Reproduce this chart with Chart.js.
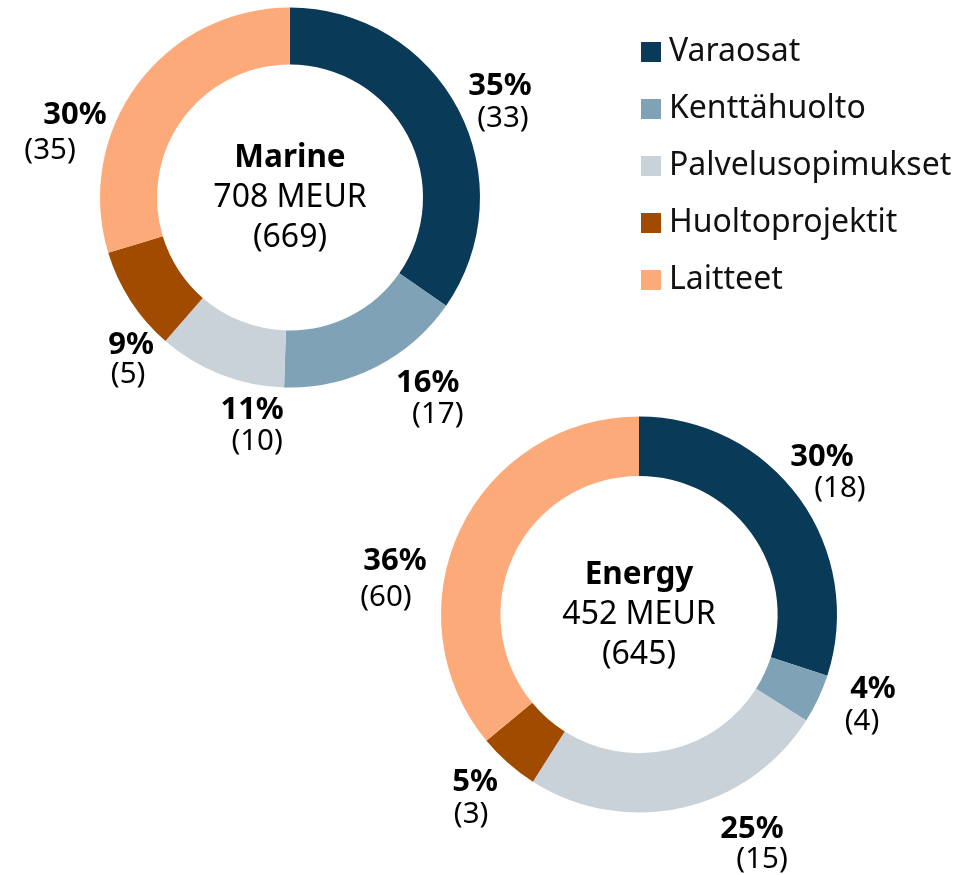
<!DOCTYPE html>
<html>
<head>
<meta charset="utf-8">
<script src="https://cdn.jsdelivr.net/npm/chart.js@4/dist/chart.umd.min.js"></script>
<style>
  html, body { margin: 0; padding: 0; background: #fff; }
  body { width: 976px; height: 875px; position: relative; overflow: hidden; font-family: "Noto Sans", sans-serif; }
  canvas.layer { position: absolute; left: 0; top: 0; }
  #legend { position: absolute; left: 0; top: 0; width: 976px; height: 875px; pointer-events: none; }
  .sw { position: absolute; width: 20px; height: 20px; }
  .lt { position: absolute; font-size: 32px; line-height: 32px; color: #111; white-space: nowrap; }
</style>
</head>
<body>
<canvas id="marine" class="layer" width="976" height="875"></canvas>
<canvas id="energy" class="layer" width="976" height="875"></canvas>
<div id="legend"></div>
<script>
// ---- data ----
const categories = ['Varaosat', 'Kenttähuolto', 'Palvelusopimukset', 'Huoltoprojektit', 'Laitteet'];
const marineShare = [35, 16, 11, 9, 30];      // % current year
const marinePrev  = [33, 17, 10, 5, 35];      // % previous year
const energyShare = [30, 4, 25, 5, 36];
const energyPrev  = [18, 4, 15, 3, 60];
const marineName = 'Marine';
const marineTotal = '708 MEUR';
const marinePrevTotal = '669';
const energyName = 'Energy';
const energyTotal = '452 MEUR';
const energyPrevTotal = '645';

// ---- styles ----
const colors = ['#093A57', '#7FA2B7', '#CAD2D9', '#A14B00', '#FDAA7A'];
const FONT = '"Noto Sans", sans-serif';
const LEGEND_FS = 32;

// label placement: angle (deg clockwise from top), distance (x outer radius), dx/dy for value line
const marinePlacement = [
  {angle: 61.6, dist: 1.256, dx: 3, dy: 33},
  {angle: 143.1, dist: 1.208, dx: 10, dy: 32},
  {angle: 190.2, dist: 1.126, dx: 5, dy: 32},
  {angle: 227.5, dist: 1.134, dx: -3, dy: 30},
  {angle: 291.5, dist: 1.216, dx: -25, dy: 36}
];
const energyPlacement = [
  {angle: 48.9, dist: 1.226, dx: 18, dy: 32},
  {angle: 107.2, dist: 1.237, dx: -11, dy: 33},
  {angle: 152.0, dist: 1.216, dx: 10, dy: 31},
  {angle: 224.7, dist: 1.177, dx: -4, dy: 32},
  {angle: 282.8, dist: 1.264, dx: -9, dy: 37}
];

const sliceLabels = {
  id: 'sliceLabels',
  afterDatasetsDraw(chart, args, opts) {
    const ctx = chart.ctx;
    const meta = chart.getDatasetMeta(0);
    const ds = chart.data.datasets[0];
    ctx.save();
    ctx.fillStyle = '#000';
    ctx.textAlign = 'center';
    ctx.textBaseline = 'middle';
    meta.data.forEach((arc, i) => {
      const p = opts.placement[i];
      const a = p.angle * Math.PI / 180;
      const r = arc.outerRadius * p.dist;
      const x = arc.x + r * Math.sin(a);
      const y = arc.y - r * Math.cos(a) + 2;
      ctx.font = 'bold 31px ' + FONT;
      ctx.fillText(ds.data[i] + '%', x, y);
      ctx.font = '29.5px ' + FONT;
      ctx.fillText('(' + opts.prev[i] + ')', x + p.dx, y + p.dy);
    });
    // center text
    const arc0 = meta.data[0];
    const cx = arc0.x, cy = arc0.y;
    ctx.font = 'bold 31.5px ' + FONT;
    ctx.fillText(opts.center[0], cx, cy - 39);
    ctx.font = '32px ' + FONT;
    ctx.fillText(opts.center[1], cx, cy);
    ctx.fillText('(' + opts.center[2] + ')', cx, cy + 40);
    ctx.restore();
  }
};

function makeDoughnut(id, values, prev, placement, center, padding) {
  return new Chart(document.getElementById(id), {
    type: 'doughnut',
    data: {
      labels: categories,
      datasets: [{
        data: values,
        backgroundColor: colors,
        borderWidth: 0,
        hoverOffset: 0
      }]
    },
    options: {
      responsive: false,
      animation: false,
      cutout: '70%',
      layout: { padding: padding },
      plugins: {
        legend: { display: false },
        tooltip: { enabled: false },
        sliceLabels: { placement: placement, prev: prev, center: center }
      },
      events: []
    },
    plugins: [sliceLabels]
  });
}

makeDoughnut('marine', marineShare, marinePrev, marinePlacement,
  [marineName, marineTotal, marinePrevTotal],
  {left: 100, right: 496, top: 7.5, bottom: 487.5});
makeDoughnut('energy', energyShare, energyPrev, energyPlacement,
  [energyName, energyTotal, energyPrevTotal],
  {left: 441, right: 139, top: 416.5, bottom: 62.5});

// ---- legend (HTML) ----
const legend = document.getElementById('legend');
categories.forEach((name, i) => {
  const sw = document.createElement('div');
  sw.className = 'sw';
  sw.style.left = '641px';
  sw.style.top = (42 + 57 * i) + 'px';
  sw.style.background = colors[i];
  legend.appendChild(sw);
  const t = document.createElement('div');
  t.className = 'lt';
  t.textContent = name;
  t.style.left = '669px';
  t.style.top = (61 + 57 * i - 0.888 * LEGEND_FS) + 'px';
  legend.appendChild(t);
});
</script>
</body>
</html>
